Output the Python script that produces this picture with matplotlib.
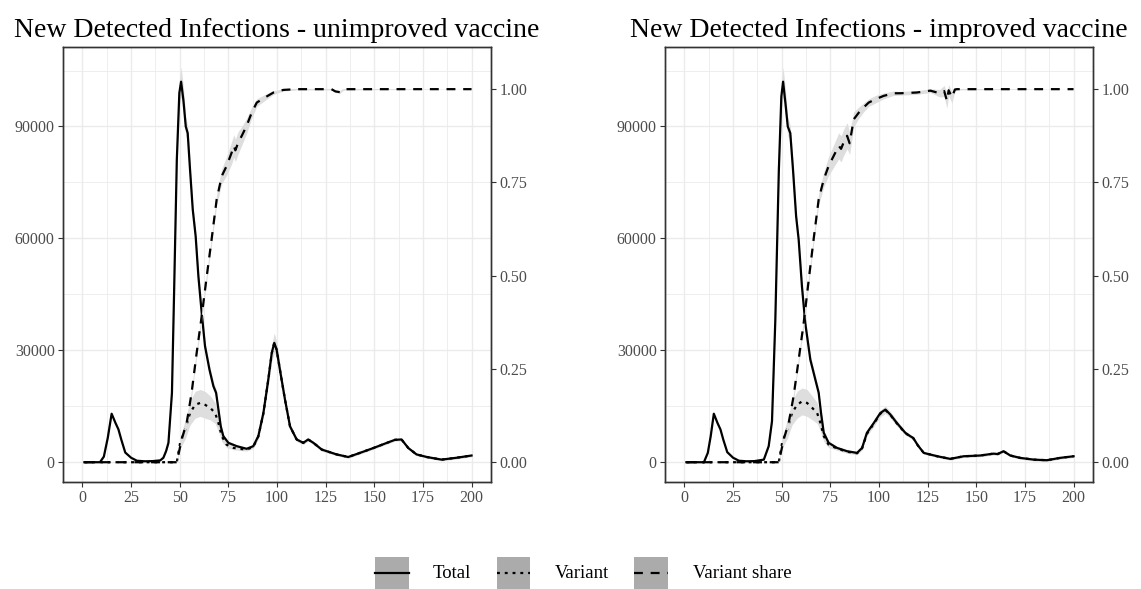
import numpy as np
import matplotlib
matplotlib.use("Agg")
import matplotlib.pyplot as plt
from matplotlib.patches import Patch
from matplotlib.lines import Line2D
from matplotlib.legend_handler import HandlerLine2D
from matplotlib.ticker import MultipleLocator

plt.rcParams['font.family'] = ['Liberation Serif', 'DejaVu Serif']

# ---- data (day, value) ----
# left panel: unimproved vaccine
L_total_days = [1, 9, 11, 13, 15, 17, 18.5, 20, 22, 25, 28, 32, 36, 40, 41.6, 43, 44.2, 46, 47.1,
                48.5, 49.8, 50.7, 51.9, 53.1, 54.1, 55.3, 56.7, 58.2, 59.6, 61.3, 63, 65.3, 67.3,
                68.7, 69.9, 71.1, 72.4, 75, 79.3, 84.4, 87.8, 90.4, 93, 95.5, 97.3, 98.6, 99.8,
                101.5, 104.1, 106.7, 110.1, 113.5, 116, 118.7, 123, 130.6, 136.6, 142.6, 149.5,
                155.5, 160.6, 164, 167.5, 171.7, 177, 184.6, 192.3, 200]
L_total = [0, 0, 1500, 6500, 13000, 10500, 8800, 6000, 2600, 1200, 400, 250, 300, 500, 1200, 3000,
           5200, 18600, 45400, 81000, 99000, 102000, 97000, 90000, 88200, 78400, 67700, 60500,
           49800, 40000, 31100, 24800, 20400, 18600, 14100, 9600, 7000, 5200, 4300, 3600, 4300,
           7000, 13200, 22100, 29300, 32000, 30200, 24800, 16800, 9600, 6100, 5200, 6100, 5200,
           3400, 2100, 1400, 2500, 3800, 5000, 6000, 6100, 3800, 2100, 1400, 700, 1200, 1800]
L_total_sd = [0, 0, 0, 0, 0, 0, 0, 0, 0, 0, 0, 0, 0, 0, 200, 300, 500, 1000, 1500, 2500, 3500,
              4000, 3500, 2500, 2000, 2000, 1500, 1500, 1500, 1200, 1200, 1200, 1200, 1000, 800,
              600, 500, 400, 400, 400, 400, 600, 1000, 1500, 2000, 2500, 2000, 1500, 1000, 700,
              500, 400, 400, 400, 400, 300, 300, 300, 300, 300, 300, 300, 300, 300, 300, 300,
              300, 300]

L_var_days = [1, 48.5, 50.2, 52.8, 55.3, 57.9, 60.5, 63, 65.6, 68.2, 69.9, 71.6, 74.1, 77.6, 81,
              84.4, 87.8, 90.4, 93, 95.5, 97.3, 98.6, 99.8, 101.5, 104.1, 106.7, 110.1, 113.5,
              116, 118.7, 123, 130.6, 136.6, 142.6, 149.5, 155.5, 160.6, 164, 167.5, 171.7, 177,
              184.6, 192.3, 200]
L_var = [0, 0, 5200, 8750, 13200, 15400, 15900, 15400, 14600, 13200, 10500, 7000, 4700, 3840,
         3570, 3400, 4100, 6900, 13100, 22000, 29200, 32000, 30200, 24800, 16800, 9600, 6100,
         5200, 6100, 5200, 3400, 2100, 1400, 2500, 3800, 5000, 6000, 6100, 3800, 2100, 1400, 700,
         1200, 1800]
L_var_sd = [0, 0, 1500, 2500, 3200, 3600, 3600, 3600, 3200, 2800, 2200, 1400, 800, 500, 400, 400,
            400, 600, 1000, 1500, 2000, 2500, 2000, 1500, 1000, 700, 500, 400, 400, 400, 400, 300,
            300, 300, 300, 300, 300, 300, 300, 300, 300, 300, 300, 300]

L_share_days = [1, 48.5, 51, 53.6, 56.1, 58.7, 61.3, 63.9, 66.4, 69, 71.6, 74.1, 76.7, 77.8, 78.6,
                80, 81.9, 84.4, 87, 89.6, 93.9, 98.2, 103.3, 110, 128, 130, 132.3, 133.5, 135, 200]
L_share = [0, 0, 0.061, 0.106, 0.186, 0.293, 0.392, 0.499, 0.598, 0.705, 0.767, 0.794, 0.83,
           0.848, 0.836, 0.856, 0.875, 0.902, 0.937, 0.964, 0.978, 0.991, 0.998, 1.0, 1.0, 0.994,
           0.992, 0.998, 1.0, 1.0]
L_share_sd = [0, 0, 0.01, 0.01, 0.01, 0.012, 0.012, 0.012, 0.012, 0.015, 0.02, 0.025, 0.03, 0.03,
              0.03, 0.03, 0.025, 0.02, 0.015, 0.01, 0.008, 0.005, 0.003, 0.002, 0.002, 0.003, 0.004,
              0.003, 0.002, 0.0]

# right panel: improved vaccine
R_total_days = [1, 10, 12, 13.5, 15.1, 17, 18.5, 20, 22, 25, 28, 32, 36, 40.8, 43.3, 45, 46.7,
                48.5, 49.8, 50.7, 51.9, 53.1, 54.4, 55.8, 57.4, 58.7, 60.4, 62.1, 64.7, 67.3, 69,
                70.2, 71.6, 74.1, 78.4, 83.6, 88.7, 91.3, 93.8, 97.3, 100.7, 103.3, 105.8, 109.2,
                113.5, 116, 117.6, 120, 123, 130, 136.6, 143.5, 152, 158.8, 161, 164, 167.5, 172.6,
                179.5, 186.3, 193, 200]
R_total = [0, 0, 2500, 7000, 13000, 10500, 8800, 6000, 2700, 1200, 400, 250, 300, 700, 4300, 11000,
           38000, 78000, 98000, 102000, 96300, 90000, 88200, 78400, 65900, 59700, 47100, 37300,
           27500, 22100, 18600, 13200, 7900, 5200, 3840, 2950, 2500, 3840, 7900, 10500, 13200,
           14100, 12800, 10500, 7900, 7000, 6500, 4500, 2500, 1600, 900, 1600, 1800, 2300, 2200,
           2950, 1800, 1160, 700, 540, 1160, 1600]
R_total_sd = [0, 0, 0, 0, 0, 0, 0, 0, 0, 0, 0, 0, 0, 200, 300, 800, 1500, 2500, 3500, 4000, 3500,
              2500, 2000, 2000, 1500, 1500, 1500, 1200, 1200, 1200, 1000, 800, 600, 500, 400, 400,
              400, 400, 500, 700, 800, 900, 800, 700, 500, 400, 400, 300, 300, 300, 300, 300, 300,
              300, 300, 300, 300, 300, 300, 300, 300, 300]

R_var_days = [1, 48.5, 50.2, 52.8, 55.3, 57.9, 60.4, 63, 65.6, 68.2, 69.9, 71.6, 74.1, 78.4, 83.6,
              88.7, 91.3, 93.8, 97.3, 100.7, 103.3, 105.8, 109.2, 113.5, 116, 117.6, 120, 123, 130,
              136.6, 143.5, 152, 158.8, 161, 164, 167.5, 172.6, 179.5, 186.3, 193, 200]
R_var = [0, 0, 5200, 8750, 13200, 15400, 16300, 15900, 14600, 13200, 10500, 7000, 4700, 3700, 2800,
         2400, 3700, 7600, 10300, 13000, 14000, 12700, 10400, 7800, 6950, 6450, 4480, 2490, 1590,
         900, 1600, 1800, 2300, 2200, 2950, 1800, 1160, 700, 540, 1160, 1600]
R_var_sd = [0, 0, 1500, 2500, 3200, 3600, 3600, 3600, 3200, 2800, 2200, 1400, 800, 500, 400, 400,
            400, 500, 700, 800, 900, 800, 700, 500, 400, 400, 300, 300, 300, 300, 300, 300, 300,
            300, 300, 300, 300, 300, 300, 300, 300]

R_share_days = [1, 48.5, 51, 53.6, 56.1, 58.7, 61.3, 63.9, 66.4, 69, 71.6, 74.1, 76.7, 79.3, 80.5,
                81.8, 83.6, 84.9, 87, 89.6, 92.1, 94.7, 98.2, 102.4, 107.5, 110.9, 119.4, 126.4,
                131.2, 133.5, 134.9, 135.8, 137.5, 139, 140, 200]
R_share = [0, 0, 0.061, 0.106, 0.177, 0.275, 0.374, 0.49, 0.598, 0.705, 0.758, 0.794, 0.821,
           0.848, 0.84, 0.857, 0.875, 0.855, 0.919, 0.937, 0.951, 0.964, 0.973, 0.982, 0.989,
           0.989, 0.991, 0.996, 0.989, 0.995, 0.969, 0.997, 0.978, 0.999, 1.0, 1.0]
R_share_sd = [0, 0, 0.01, 0.01, 0.01, 0.012, 0.012, 0.012, 0.012, 0.015, 0.02, 0.025, 0.03, 0.035,
              0.035, 0.035, 0.035, 0.03, 0.02, 0.015, 0.012, 0.01, 0.01, 0.008, 0.006, 0.005, 0.005,
              0.005, 0.01, 0.015, 0.02, 0.015, 0.015, 0.005, 0.002, 0.0]

titles = ["New Detected Infections - unimproved vaccine",
          "New Detected Infections - improved vaccine"]
legend_labels = ["Total", "Variant", "Variant share"]

SHARE_SCALE = 100000  # secondary axis factor
RIB = '#DEDEDE'
DASHED = (0, (4, 3.5))
DOTTED = (0, (1.3, 2.2))


class CenteredLine(HandlerLine2D):
    # put the legend line in the middle of the grey key box
    def create_artists(self, legend, orig_handle, xdescent, ydescent, width, height,
                       fontsize, trans):
        arts = super().create_artists(legend, orig_handle, xdescent, ydescent, width, height,
                                      fontsize, trans)
        for a in arts:
            n = len(a.get_ydata())
            a.set_ydata([height / 2 - ydescent] * n)
        return arts


def band(ax, d, v, s):
    d = np.asarray(d)
    v = np.asarray(v, float)
    s = np.asarray(s, float)
    ax.fill_between(d, v - s, v + s, color=RIB, lw=0, zorder=1)


def draw_panel(ax, title, tot, var, share):
    band(ax, *tot)
    band(ax, *var)
    ax.plot(tot[0], tot[1], color='black', lw=1.6, zorder=3)
    ax.plot(var[0], var[1], color='black', lw=1.6, ls=DOTTED, zorder=3)

    ax.set_xlim(-10, 210)
    ax.set_ylim(-5300, 111300)
    ax.xaxis.set_major_locator(MultipleLocator(25))
    ax.xaxis.set_minor_locator(MultipleLocator(12.5))
    ax.yaxis.set_major_locator(MultipleLocator(30000))
    ax.yaxis.set_minor_locator(MultipleLocator(15000))
    ax.grid(which='major', color='#EBEBEB', lw=1.0)
    ax.grid(which='minor', color='#EBEBEB', lw=0.6)
    ax.set_axisbelow(True)
    ax.tick_params(which='minor', length=0)
    ax.tick_params(which='major', length=3.5, width=0.8, color='#333333',
                   labelcolor='#4D4D4D', labelsize=11.5, pad=2.5)
    for sp in ax.spines.values():
        sp.set_color('#333333')
        sp.set_linewidth(1.0)

    ax2 = ax.twinx()
    band(ax2, *share)
    ax2.plot(share[0], share[1], color='black', lw=1.6, ls=DASHED, zorder=3)
    lo, hi = ax.get_ylim()
    ax2.set_ylim(lo / SHARE_SCALE, hi / SHARE_SCALE)
    ax2.set_yticks([0, 0.25, 0.5, 0.75, 1.0])
    ax2.set_yticklabels(['0.00', '0.25', '0.50', '0.75', '1.00'])
    ax2.tick_params(length=3.5, width=0.8, color='#333333',
                    labelcolor='#4D4D4D', labelsize=11.5, pad=2.5)
    for sp in ax2.spines.values():
        sp.set_color('#333333')
        sp.set_linewidth(1.0)

    ax.set_title(title, fontsize=20, pad=7)


fig = plt.figure(figsize=(11.41, 5.89), dpi=100)
axL = fig.add_axes([63 / 1141, 1 - 482 / 589, 428 / 1141, 435 / 589])
axR = fig.add_axes([665 / 1141, 1 - 482 / 589, 428 / 1141, 435 / 589])

draw_panel(axL, titles[0],
           (L_total_days, L_total, L_total_sd),
           (L_var_days, L_var, L_var_sd),
           (L_share_days, L_share, L_share_sd))
draw_panel(axR, titles[1],
           (R_total_days, R_total, R_total_sd),
           (R_var_days, R_var, R_var_sd),
           (R_share_days, R_share, R_share_sd))

key = Patch(facecolor='#ABABAB', edgecolor='none')
handles = [(key, Line2D([], [], color='black', lw=1.6)),
           (key, Line2D([], [], color='black', lw=1.6, ls=DOTTED)),
           (key, Line2D([], [], color='black', lw=1.6, ls=DASHED))]
fig.legend(handles, legend_labels, loc='center', bbox_to_anchor=(0.511, 0.028), ncol=3,
           frameon=False, fontsize=13.5, handlelength=1.8, handleheight=2.25,
           handletextpad=1.3, columnspacing=1.35, handler_map={Line2D: CenteredLine()})

fig.savefig('out.png', dpi=100)
